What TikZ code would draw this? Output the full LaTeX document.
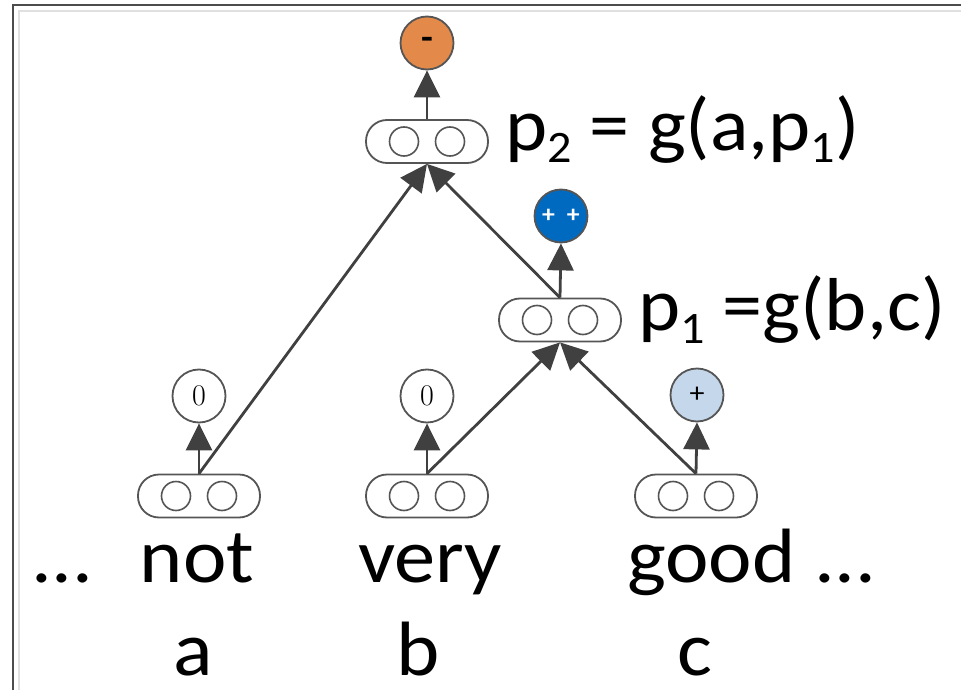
\documentclass[tikz,border=0pt]{standalone}
\usepackage{fontspec}
\setmainfont{Carlito}[FakeStretch=1.07]
\newfontfamily\serifzero{Latin Modern Roman}
\usetikzlibrary{arrows.meta}
\definecolor{edgegray}{HTML}{404040}
\definecolor{rimgray}{HTML}{555555}
\definecolor{negorange}{RGB}{227,137,74}
\definecolor{posblue}{RGB}{0,106,192}
\definecolor{lightpos}{RGB}{197,215,235}
\tikzset{
  pill/.style={draw=rimgray, line width=1.8pt, fill=white, rectangle, rounded corners=21pt, minimum width=122pt, minimum height=43pt, inner sep=0pt},
  unit/.style={draw=rimgray, line width=1.6pt, circle, minimum size=29pt, inner sep=0pt},
  vec/.pic={
    \node[pill] (-box) at (0,0) {};
    \node[unit] (-l) at (-23,0) {};
    \node[unit] (-r) at (23,0) {};
  },
  outc/.style={draw=rimgray, line width=1.8pt, circle, minimum size=53pt, inner sep=0pt},
  conn/.style={draw=edgegray, line width=2.8pt, -{Triangle[length=27pt,width=26pt]}},
  bigtxt/.style={inner sep=0pt, font=\fontsize{77}{80}\selectfont},
  labtxt/.style={inner sep=0pt, font=\fontsize{75}{80}\selectfont},
  frameline/.style={draw=rimgray!90!black, line width=2.6pt},
  shadowline/.style={draw=black!12, line width=2pt}
}
\newcommand{\lowsub}[1]{\raisebox{-13pt}{\fontsize{45}{45}\selectfont #1}}
\begin{document}
\begin{tikzpicture}[x=1pt,y=-1pt]
\useasboundingbox (0,0) rectangle (961,690);
% frame
\draw[shadowline] (19,690) -- (19,11) -- (961,11);
\draw[frameline] (13,690) -- (13,5) -- (961,5);
% composition vectors
\pic (na) at (199,496) {vec};
\pic (nb) at (427,496) {vec};
\pic (nc) at (696,496) {vec};
\pic (pone) at (560,320) {vec};
\pic (ptwo) at (427,141.5) {vec};
% sentiment outputs
\node[outc, fill=white, font=\serifzero\fontsize{30}{30}\selectfont] (oa) at (199,396) {0};
\node[outc, fill=white, font=\serifzero\fontsize{30}{30}\selectfont] (ob) at (427,396) {0};
\node[outc, fill=lightpos, font=\fontsize{28}{28}\selectfont] (oc) at (697,395) {+};
\node[outc, fill=posblue, text=white, font=\bfseries\fontsize{24}{24}\selectfont] (opone) at (561,216) {+\hspace{12pt}+};
\node[outc, fill=negorange, font=\bfseries\fontsize{36}{36}\selectfont] (optwo) at (427,43) {-};
% connectors
\draw[conn] (na-box.north) -- (oa.south);
\draw[conn] (nb-box.north) -- (ob.south);
\draw[conn] (nc-box.north) -- (oc.south);
\draw[conn] (pone-box.north) -- (opone.south);
\draw[conn] (ptwo-box.north) -- (optwo.south);
\draw[conn] (nb-box.north) -- (pone-box.south);
\draw[conn] (nc-box.north) -- (pone-box.south);
\draw[conn] (na-box.north) -- (ptwo-box.south);
\draw[conn] (pone-box.north) -- (ptwo-box.south);
% labels
\node[labtxt, anchor=base west] (ltwo) at (505,150) {p\lowsub{2} = g(a,p\lowsub{1})};
\node[labtxt, anchor=base west] (lone) at (638,330) {p\lowsub{1} =g(b,c)};
% words
\node[bigtxt, anchor=base west] (dotsl) at (31,582) {...};
\node[bigtxt, anchor=base] (wa) at (197,582) {not};
\node[bigtxt, anchor=base] (wb) at (430,582) {very};
\node[bigtxt, anchor=base west] (wc) at (627,582) {good ...};
\node[bigtxt, anchor=base, text depth=0pt] (la) at (193,675) {a};
\node[bigtxt, anchor=base, text depth=0pt] (lb) at (418,675) {b};
\node[bigtxt, anchor=base, text depth=0pt] (lc) at (695,675) {c};
\end{tikzpicture}
\end{document}
